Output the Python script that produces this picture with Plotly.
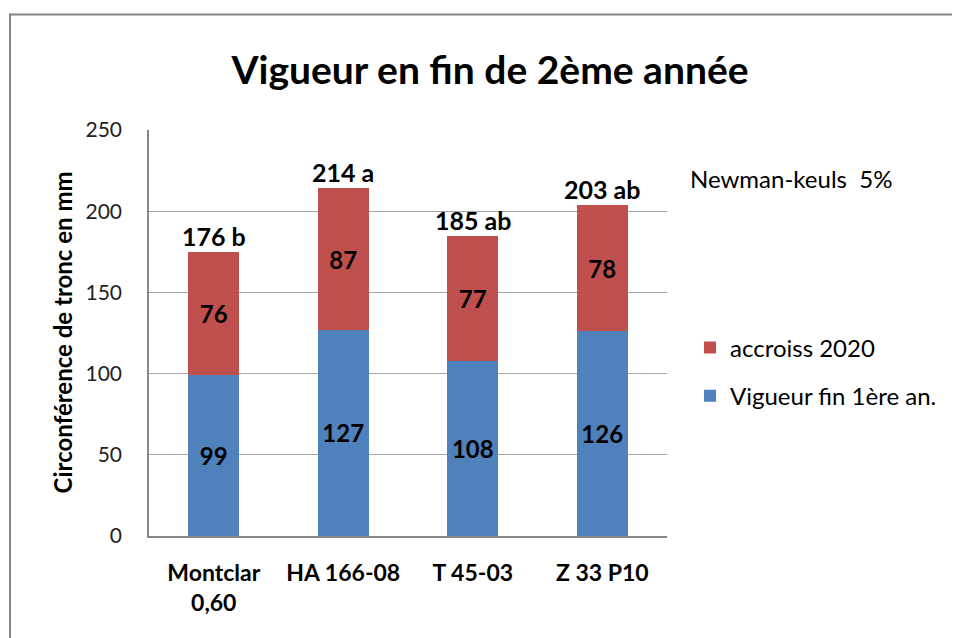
import plotly.graph_objects as go

categories = ["Montclar<br>0,60", "HA 166-08", "T 45-03", "Z 33 P10"]
vigueur_1ere = [99, 127, 108, 126]
accroiss_2020 = [76, 87, 77, 78]
total_labels = ["176 b", "214 a", "185 ab", "203 ab"]
y_ticks = [0, 50, 100, 150, 200, 250]

FONT = "Lato"
BLUE = "#4F81BD"
RED = "#C0504D"
OFF = 8  # page body margin
FW, FH = 960 - OFF, 638 - OFF

fig = go.Figure()
fig.add_trace(go.Bar(
    x=categories, y=vigueur_1ere, name="Vigueur fin 1ère an.",
    marker=dict(color=BLUE, line=dict(width=0)),
    text=[f"<b>{v}</b>" for v in vigueur_1ere], textposition="inside",
    insidetextanchor="middle", textangle=0,
    textfont=dict(family=FONT, size=24, color="black"),
    legendgroup="b", legendrank=2,
))
fig.add_trace(go.Bar(
    x=categories, y=accroiss_2020, name="accroiss 2020",
    marker=dict(color=RED, line=dict(width=0)),
    text=[f"<b>{v}</b>" for v in accroiss_2020], textposition="inside",
    insidetextanchor="middle", textangle=0,
    textfont=dict(family=FONT, size=24, color="black"),
    legendgroup="a", legendrank=1,
))

totals = [a + b for a, b in zip(vigueur_1ere, accroiss_2020)]
for c, t, lab in zip(categories, totals, total_labels):
    fig.add_annotation(x=c, y=t, text=f"<b>{lab}</b>", showarrow=False,
                       yanchor="bottom", yshift=-1,
                       font=dict(family=FONT, size=25, color="black"))

# Plot area geometry (page px)
L, R, T, B = 149, 667, 129.5, 535.7
W, H = R - L, B - T

def px_x(p):
    return (p - L) / W

def px_y(p):
    return (B - p) / H

fig.add_annotation(xref="paper", yref="paper", x=px_x(688), y=px_y(178),
                   xanchor="left", yanchor="middle", showarrow=False,
                   text="Newman-keuls  5%", font=dict(family=FONT, size=24, color="black"))

fig.add_annotation(xref="paper", yref="paper", x=px_x(62), y=px_y(332),
                   xanchor="center", yanchor="middle", showarrow=False, textangle=-90,
                   text="<b>Circonférence de tronc en mm</b>",
                   font=dict(family=FONT, size=24, color="black"))

# outer chart border (only top and left edges are visible in the frame)
fig.add_shape(type="line", xref="paper", yref="paper",
              x0=px_x(9), x1=px_x(1000), y0=px_y(14), y1=px_y(14),
              line=dict(color="#868686", width=2), layer="below")
fig.add_shape(type="line", xref="paper", yref="paper",
              x0=px_x(10), x1=px_x(10), y0=px_y(13), y1=px_y(700),
              line=dict(color="#868686", width=2), layer="below")

fig.update_layout(
    width=FW, height=FH,
    margin=dict(l=L - OFF, r=FW - (R - OFF), t=T - OFF, b=FH - (B - OFF)),
    paper_bgcolor="white", plot_bgcolor="white",
    barmode="stack", bargap=0.605,
    title=dict(text="<b>Vigueur en fin de 2ème année</b>", x=(490 - OFF) / FW, xanchor="center",
               xref="container", yref="container", y=1 - (70 - OFF) / FH, yanchor="middle",
               font=dict(family=FONT, size=39, color="black")),
    showlegend=True,
    legend=dict(x=px_x(690), y=px_y(325), xanchor="left", yanchor="top",
                traceorder="grouped", tracegroupgap=14,
                font=dict(family=FONT, size=24, color="black"),
                bgcolor="rgba(0,0,0,0)", itemwidth=30),
    font=dict(family=FONT),
)
fig.update_xaxes(
    showgrid=False, showline=True, linecolor="#868686", linewidth=1.5,
    tickfont=dict(family=FONT, size=23, color="black"),
    tickvals=categories, ticktext=[f"<b>{c}</b>" for c in categories],
    ticklabelstandoff=16, ticks="",
)
fig.update_yaxes(
    range=[0, 250], tickvals=y_ticks, showgrid=True, gridcolor="#A6A6A6", gridwidth=1,
    showline=True, linecolor="#868686", linewidth=1.5, zeroline=False,
    tickfont=dict(family=FONT, size=21, color="#222222"),
    ticks="", ticklabelstandoff=21,
)

fig.write_html("out.html", config={"displayModeBar": False})
